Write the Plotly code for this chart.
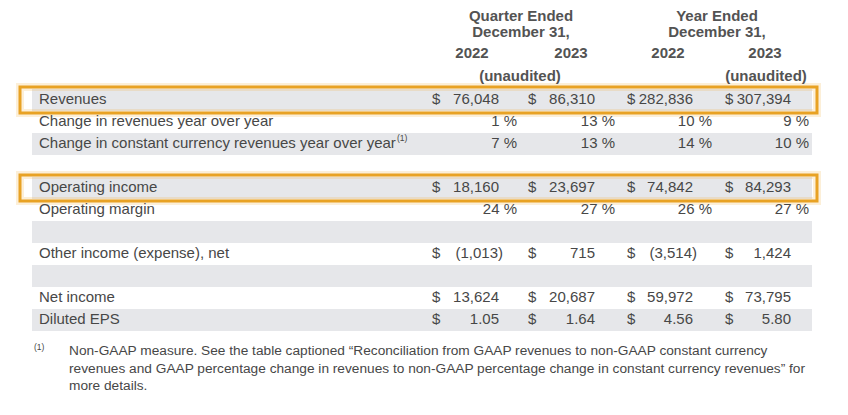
import plotly.graph_objects as go

# ---------------- data ----------------
row_labels = [
    "Revenues",
    "Change in revenues year over year",
    "Change in constant currency revenues year over year",
    "",
    "Operating income",
    "Operating margin",
    "",
    "Other income (expense), net",
    "",
    "Net income",
    "Diluted EPS",
]
footnoted_row = 2
period_groups = ["Quarter Ended", "Year Ended"]
period_sub = "December 31,"
years = ["2022", "2023", "2022", "2023"]
audit_note = "(unaudited)"

revenues = [76048, 86310, 282836, 307394]
revenue_growth_pct = [1, 13, 10, 9]
cc_revenue_growth_pct = [7, 13, 14, 10]
operating_income = [18160, 23697, 74842, 84293]
operating_margin_pct = [24, 27, 26, 27]
other_income = [-1013, 715, -3514, 1424]
net_income = [13624, 20687, 59972, 73795]
diluted_eps = [1.05, 1.64, 4.56, 5.80]

footnote_mark = "(1)"
footnote_lines = [
    "Non-GAAP measure. See the table captioned \u201cReconciliation from GAAP revenues to non-GAAP constant currency",
    "revenues and GAAP percentage change in revenues to non-GAAP percentage change in constant currency revenues\u201d for",
    "more details.",
]

# row index -> (format kind, values)
row_values = {
    0: ("usd", revenues),
    1: ("pct", revenue_growth_pct),
    2: ("pct", cc_revenue_growth_pct),
    4: ("usd", operating_income),
    5: ("pct", operating_margin_pct),
    7: ("usd", other_income),
    9: ("usd", net_income),
    10: ("eps", diluted_eps),
}
highlight_rows = [0, 4]

# ---------------- layout constants ----------------
W, H = 848, 415
OFF = 8  # default page body margin
ROW0, PITCH = 100, 22
row_y = [ROW0 + PITCH * i for i in range(len(row_labels))]
LABEL_X = 39
SUP_X = 397
BAND_X0, BAND_X1 = 32, 812
BOX_X0, BOX_X1 = 20, 817
dollar_x = [432, 528, 627, 725]
num_right = [499, 595, 693, 791]
pct_right = [517, 615, 712, 809]
group_center = [521, 717]
year_center = [472, 571, 668, 765]
audit_center = [520, 766]

TXT = "#474747"
HDR = "#535353"
FONT = "Liberation Sans, Arial, sans-serif"
FS = 15


def fmt(kind, v):
    if kind == "pct":
        return f"{v} %"
    if kind == "eps":
        return f"{v:.2f}"
    s = f"{abs(v):,}"
    return f"({s})" if v < 0 else s


fig = go.Figure()

# row labels (blank spacer rows carry no text)
lab_idx = [i for i, t in enumerate(row_labels) if t]
fig.add_trace(go.Scatter(
    x=[LABEL_X] * len(lab_idx), y=[row_y[i] for i in lab_idx],
    text=[row_labels[i] for i in lab_idx], mode="text",
    textposition="middle right", textfont=dict(family=FONT, size=FS, color=TXT),
    hoverinfo="skip", showlegend=False, cliponaxis=False,
))
# superscript footnote mark on the label
fig.add_trace(go.Scatter(
    x=[SUP_X], y=[row_y[footnoted_row] - 5], text=[footnote_mark], mode="text",
    textposition="middle right", textfont=dict(family=FONT, size=8.5, color=TXT),
    hoverinfo="skip", showlegend=False, cliponaxis=False,
))

# values per column
for c in range(4):
    vx, vy, vt, dx, dy = [], [], [], [], []
    for r, (kind, vals) in row_values.items():
        v = vals[c]
        if kind == "pct":
            vx.append(pct_right[c])
        else:
            vx.append(num_right[c] + (4 if v < 0 else 0))
            dx.append(dollar_x[c])
            dy.append(row_y[r])
        vy.append(row_y[r])
        vt.append(fmt(kind, v))
    fig.add_trace(go.Scatter(
        x=vx, y=vy, text=vt, mode="text", textposition="middle left",
        textfont=dict(family=FONT, size=FS, color=TXT),
        hoverinfo="skip", showlegend=False, cliponaxis=False,
    ))
    fig.add_trace(go.Scatter(
        x=dx, y=dy, text=["$"] * len(dx), mode="text", textposition="middle right",
        textfont=dict(family=FONT, size=FS, color=TXT),
        hoverinfo="skip", showlegend=False, cliponaxis=False,
    ))

# headers
hdr_font = dict(family=FONT, size=FS, color=HDR, weight="bold")
fig.add_trace(go.Scatter(
    x=group_center + group_center + year_center + audit_center,
    y=[17.5, 17.5, 33, 33] + [54] * 4 + [77, 77],
    text=period_groups + [period_sub] * 2 + years + [audit_note] * 2,
    mode="text", textposition="middle center", textfont=hdr_font,
    hoverinfo="skip", showlegend=False, cliponaxis=False,
))

# footnote
fig.add_trace(go.Scatter(
    x=[34], y=[348], text=[footnote_mark], mode="text", textposition="middle right",
    textfont=dict(family=FONT, size=8.5, color=TXT),
    hoverinfo="skip", showlegend=False, cliponaxis=False,
))
fig.add_trace(go.Scatter(
    x=[69] * len(footnote_lines), y=[352 + 17.5 * i for i in range(len(footnote_lines))],
    text=footnote_lines, mode="text", textposition="middle right",
    textfont=dict(family=FONT, size=13.7, color=TXT),
    hoverinfo="skip", showlegend=False, cliponaxis=False,
))

shapes = []
for i in range(0, len(row_labels), 2):
    shapes.append(dict(type="rect", xref="x", yref="y", x0=BAND_X0, x1=BAND_X1,
                       y0=row_y[i] - PITCH / 2, y1=row_y[i] + PITCH / 2,
                       fillcolor="#e6e7ea", line=dict(width=0), layer="below"))
for r in highlight_rows:
    shapes.append(dict(type="rect", xref="x", yref="y", x0=BOX_X0, x1=BOX_X1,
                       y0=row_y[r] - 13, y1=row_y[r] + 13,
                       fillcolor="rgba(0,0,0,0)",
                       line=dict(width=8, color="rgba(240,175,60,0.2)"), layer="below"))
    shapes.append(dict(type="rect", xref="x", yref="y", x0=BOX_X0, x1=BOX_X1,
                       y0=row_y[r] - 13, y1=row_y[r] + 13,
                       fillcolor="rgba(0,0,0,0)",
                       line=dict(width=3, color="#e8a224"), layer="below"))

fig.update_layout(
    width=W - OFF, height=H - OFF, margin=dict(l=0, r=0, t=0, b=0),
    paper_bgcolor="white", plot_bgcolor="white",
    xaxis=dict(range=[OFF, W], visible=False, fixedrange=True),
    yaxis=dict(range=[H, OFF], visible=False, fixedrange=True),
    shapes=shapes,
)

fig.write_html("out.html")
